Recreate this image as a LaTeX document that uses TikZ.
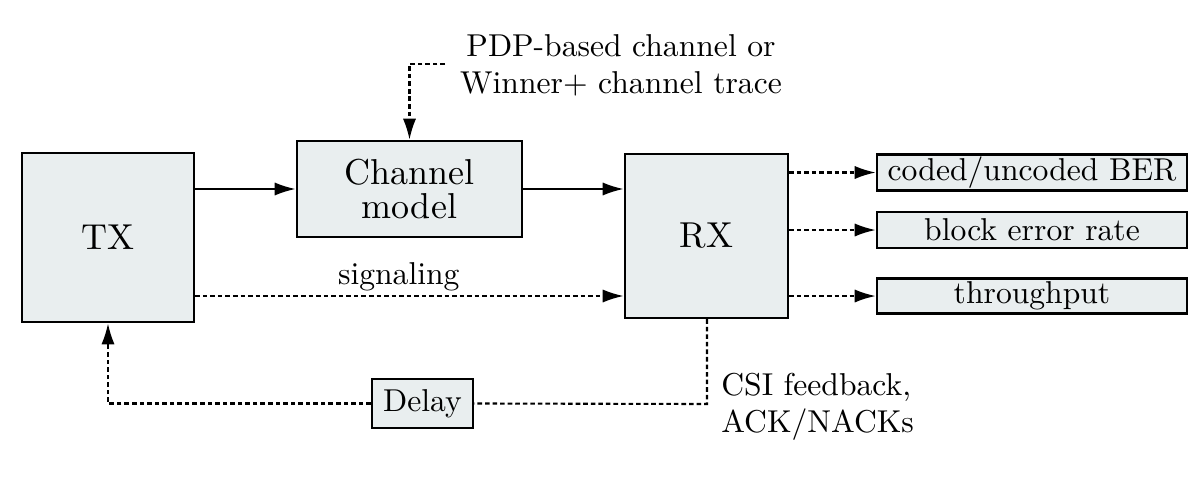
\documentclass[tikz,border=0pt]{standalone}
\usepackage{fontspec}
\setmainfont{lmroman10-regular.otf}
\usetikzlibrary{arrows.meta}
\definecolor{boxfill}{RGB}{233,238,239}
\begin{document}
\begin{tikzpicture}[x=0.02cm,y=-0.02cm,
  blk/.style={draw, line width=1.4pt, fill=boxfill, inner sep=0pt, align=center},
  big/.style={font=\fontsize{20.5}{19.5}\selectfont},
  small/.style={font=\fontsize{18}{21}\selectfont},
  arr/.style={line width=1.2pt, -{Latex[length=12pt,width=7.5pt]}},
  dot/.style={line width=1.2pt, dash pattern=on 2.6pt off 1.7pt},
]
\useasboundingbox (0,0) rectangle (1200,480);
% blocks
\node[blk,big,minimum width=3.44cm,minimum height=3.38cm] (tx) at (108,237.5) {TX};
\node[blk,big,minimum width=4.5cm,minimum height=1.92cm] (ch) at (409.5,189) {Channel\\model};
\node[blk,big,minimum width=3.26cm,minimum height=3.28cm] (rx) at (706.5,236) {RX};
\node[blk,small,minimum width=6.2cm,minimum height=0.72cm] (ber) at (1032,172.5) {coded/uncoded BER};
\node[blk,small,minimum width=6.2cm,minimum height=0.72cm] (bler) at (1032,230) {block error rate};
\node[blk,small,minimum width=6.2cm,minimum height=0.70cm] (thr) at (1032,296) {throughput};
\node[blk,small,minimum width=2.02cm,minimum height=0.98cm] (delay) at (422.5,403.5) {Delay};
% texts
\node[small,align=center,inner sep=0pt] (pdp) at (621,65) {PDP-based channel or\\Winner+ channel trace};
\node[small,align=left,anchor=west,inner sep=0pt] (csi) at (721,407) {CSI feedback,\\ACK/NACKs};
% coordinates
\coordinate (src) at (445,64);
\coordinate (sy) at (0,296);
\coordinate (fb) at (707,404);
% connectors
\draw[arr] (tx.east |- ch.west) -- (ch.west);
\draw[arr] (ch.east) -- (rx.west |- ch.east);
\draw[dot,arr] (src) -| (ch.north);
\draw[dot,arr] (tx.east |- sy) -- node[small,above,pos=0.475,inner sep=2pt] (sig) {signaling} (rx.west |- sy);
\draw[dot,arr] (rx.east |- ber.west) -- (ber.west);
\draw[dot,arr] (rx.east |- bler.west) -- (bler.west);
\draw[dot,arr] (rx.east |- thr.west) -- (thr.west);
\draw[dot] (rx.south -| fb) -- (fb) -- (delay.east);
\draw[dot,arr] (delay.west) -| (tx.south);
\end{tikzpicture}
\end{document}
